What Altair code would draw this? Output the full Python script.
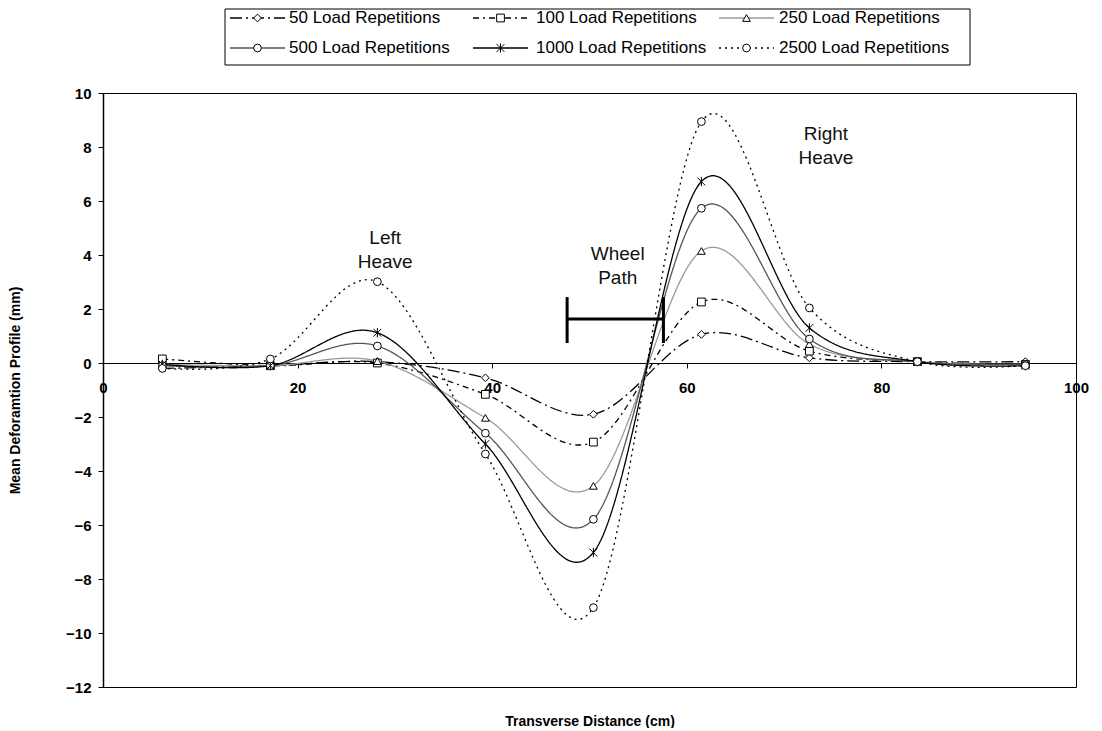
import altair as alt
import pandas as pd

# ---------------- data ----------------
x_pos = [6.1, 17.2, 28.2, 39.3, 50.4, 61.5, 72.6, 83.7, 94.8]
series_names = ["50 Load Repetitions", "100 Load Repetitions", "250 Load Repetitions",
                "500 Load Repetitions", "1000 Load Repetitions", "2500 Load Repetitions"]
s50 = [-0.2, -0.1, 0.05, -0.55, -1.9, 1.06, 0.19, 0.05, 0.05]
s100 = [0.15, -0.1, 0.0, -1.16, -2.93, 2.26, 0.44, 0.05, -0.05]
s250 = [-0.05, -0.1, 0.07, -2.03, -4.55, 4.15, 0.7, 0.05, -0.05]
s500 = [-0.1, -0.1, 0.63, -2.6, -5.79, 5.73, 0.89, 0.05, -0.05]
s1000 = [-0.05, -0.1, 1.12, -3.0, -7.02, 6.72, 1.3, 0.05, -0.1]
s2500 = [-0.2, 0.15, 3.01, -3.37, -9.06, 8.94, 2.04, 0.05, -0.1]
all_series = [s50, s100, s250, s500, s1000, s2500]

annot_text = ["Left\nHeave", "Wheel\nPath", "Right\nHeave"]
annot_x = [29.0, 52.9, 74.3]
annot_y = [4.63, 4.04, 8.48]

wheel_left, wheel_right = 47.7, 57.6
wheel_y, wheel_lo, wheel_hi = 1.63, 0.74, 2.44

# ---------------- tables ----------------
rows = []
for name, vals in zip(series_names, all_series):
    for xv, yv in zip(x_pos, vals):
        rows.append({"series": name, "x": xv, "y": yv})
df = pd.DataFrame(rows)

asterisk = "M-1,-1L1,1M-1,1L1,-1M0,-1.2L0,1.2"
color_s = alt.Scale(domain=series_names,
                    range=["black", "black", "#9a9a9a", "#555555", "black", "black"])
dash_s = alt.Scale(domain=series_names,
                   range=[[12, 4, 2, 4], [6, 4, 2, 4], [1, 0], [1, 0], [1, 0], [2, 4]])
width_s = alt.Scale(domain=series_names, range=[1.3, 1.3, 2.2, 2.4, 1.4, 2.0])
shape_s = alt.Scale(domain=series_names,
                    range=["diamond", "square", "triangle-up", "circle", asterisk, "circle"])
size_s = alt.Scale(domain=series_names, range=[60, 60, 60, 65, 65, 50])

xs = alt.Scale(domain=[0, 100], nice=False)
ys = alt.Scale(domain=[-12, 10], nice=False)

PLOT_H = 594
zero_px = PLOT_H * 10 / 22

X = alt.X("x:Q", scale=xs,
          axis=alt.Axis(title="Transverse Distance (cm)", values=[0, 20, 40, 60, 80, 100],
                        grid=False, offset=-(PLOT_H - zero_px), domainColor="black",
                        domainWidth=1, tickColor="black", tickSize=5, labelPadding=12,
                        labelFlush=False, labelOverlap=False,
                        labelFont="Liberation Sans", labelFontWeight="bold", labelFontSize=15,
                        labelColor="black", titleFont="Liberation Sans", titleFontWeight="bold",
                        titleFontSize=14, titleColor="black", titleY=358,
                        titleBaseline="middle"))
Y = alt.Y("y:Q", scale=ys,
          axis=alt.Axis(title="Mean Deforamtion Profile (mm)",
                        values=list(range(-12, 11, 2)), grid=False, domainColor="black",
                        domainWidth=1.5, tickColor="black", tickSize=5, labelPadding=7,
                        labelFlush=False, labelOverlap=False,
                        labelFont="Liberation Sans", labelFontWeight="bold", labelFontSize=15,
                        labelColor="black", titleFont="Liberation Sans", titleFontWeight="bold",
                        titleFontSize=14, titleColor="black", titleX=-88,
                        titleBaseline="middle"))

enc_common = dict(
    color=alt.Color("series:N", scale=color_s, legend=None),
    strokeDash=alt.StrokeDash("series:N", scale=dash_s, legend=None),
    strokeWidth=alt.StrokeWidth("series:N", scale=width_s, legend=None),
)

lines = alt.Chart(df).mark_line(interpolate="cardinal").encode(
    x=X, y=Y, detail="series:N", **enc_common)

points = alt.Chart(df).mark_point(filled=False, fill="white", stroke="black",
                                  strokeWidth=1, opacity=1).encode(
    x="x:Q", y="y:Q",
    shape=alt.Shape("series:N", scale=shape_s, legend=None),
    size=alt.Size("series:N", scale=size_s, legend=None),
)

annot_df = pd.DataFrame({"label": annot_text, "x": annot_x, "y": annot_y})
annots = alt.Chart(annot_df).mark_text(font="Liberation Sans", fontSize=19, color="#111",
                                       lineBreak="\n", lineHeight=24, baseline="middle",
                                       align="center").encode(
    x="x:Q", y="y:Q", text="label:N")

wp_h = alt.Chart(pd.DataFrame({"x": [wheel_left], "x2": [wheel_right], "y": [wheel_y]})
                 ).mark_rule(color="black", strokeWidth=3).encode(
    x="x:Q", x2="x2:Q", y="y:Q")
wp_v = alt.Chart(pd.DataFrame({"x": [wheel_left, wheel_right], "y": [wheel_lo, wheel_lo],
                               "y2": [wheel_hi, wheel_hi]})
                 ).mark_rule(color="black", strokeWidth=3).encode(
    x="x:Q", y="y:Q", y2="y2:Q")

# ---------------- legend (custom, above plot) ----------------
col_line_x = [127, 370, 616]
col_text_x = [186, 433, 676]
row_y = [-75, -45]
seg_len = 55
leg_rows = []
for i, name in enumerate(series_names):
    c, r = i % 3, i // 3
    leg_rows.append({"series": name, "lx0": col_line_x[c], "lx1": col_line_x[c] + seg_len,
                     "lxm": col_line_x[c] + seg_len / 2, "lxt": col_text_x[c], "ly": row_y[r]})
leg_df = pd.DataFrame(leg_rows)

leg_box = alt.Chart(pd.DataFrame({"a": [0]})).mark_rect(
    fill="white", stroke="black", strokeWidth=1).encode(
    x=alt.value(122), x2=alt.value(867), y=alt.value(-84), y2=alt.value(-28))
leg_lines = alt.Chart(leg_df).mark_rule().encode(
    x=alt.X("lx0:Q", scale=None), x2="lx1:Q", y=alt.Y("ly:Q", scale=None), **enc_common)
leg_pts = alt.Chart(leg_df).mark_point(filled=False, fill="white", stroke="black",
                                       strokeWidth=1, opacity=1).encode(
    x=alt.X("lxm:Q", scale=None), y=alt.Y("ly:Q", scale=None),
    shape=alt.Shape("series:N", scale=shape_s, legend=None),
    size=alt.Size("series:N", scale=size_s, legend=None))
leg_txt = alt.Chart(leg_df).mark_text(font="Liberation Sans", fontSize=17, color="black",
                                      align="left", baseline="middle").encode(
    x=alt.X("lxt:Q", scale=None), y=alt.Y("ly:Q", scale=None), text="series:N")

chart = alt.layer(lines, points, wp_h, wp_v, annots, leg_box, leg_lines, leg_pts, leg_txt
                  ).properties(
    width=973, height=PLOT_H,
    padding={"left": 0, "top": 0, "right": 0, "bottom": 0},
    background="white",
).configure_view(stroke="black", strokeWidth=1)

chart.save("out.html", embed_options={"renderer": "svg", "actions": False})
